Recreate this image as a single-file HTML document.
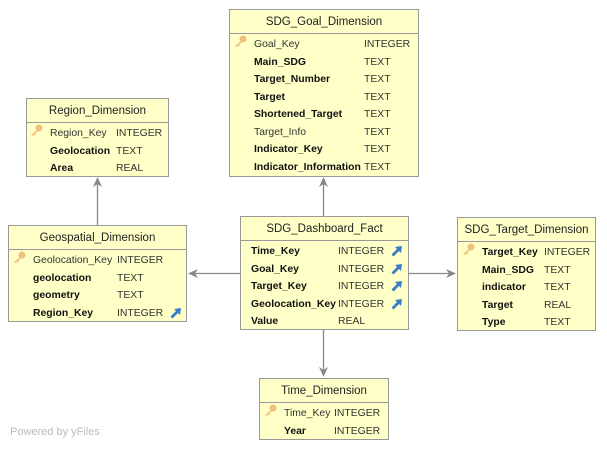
<!DOCTYPE html>
<html><head><meta charset="utf-8"><style>
body{margin:0;width:607px;height:449px;background:#fff;position:relative;overflow:hidden;font-family:"Liberation Sans",sans-serif;font-size:10.4px;color:#111}
.b{position:absolute;background:#ffffc8;border:1px solid #999;box-sizing:border-box}
.h{position:absolute;left:0;right:0;top:1px;height:23px;text-align:center;line-height:23px;font-size:11.5px;color:#222}
.hl{position:absolute;left:0;right:0;top:23px;border-top:1px solid #999}
.t{position:absolute;white-space:nowrap;line-height:12px}
.bd{font-weight:bold;color:#111}
.g{color:#333}
.k{position:absolute;width:13px;height:12px}
.i{position:absolute;width:12px;height:12px}
.pw{position:absolute;left:10px;top:426px;color:#bbb;font-size:11px;font-family:"Liberation Sans",sans-serif}
</style></head><body>
<svg width="607" height="449" style="position:absolute;left:0;top:0">
<g stroke="#888" stroke-width="1.3" fill="none">
<line x1="323.5" y1="216" x2="323.5" y2="180"/>
<line x1="240" y1="273.5" x2="191" y2="273.5"/>
<line x1="409" y1="273.5" x2="453" y2="273.5"/>
<line x1="323.5" y1="330" x2="323.5" y2="374"/>
<line x1="97.5" y1="225" x2="97.5" y2="180"/>
</g>
<g fill="#888">
<path d="M323.5 177 L319 187 L323.5 184 L328 187Z"/>
<path d="M188 273.5 L198 269 L195 273.5 L198 278Z"/>
<path d="M456 273.5 L446 269 L449 273.5 L446 278Z"/>
<path d="M323.5 377 L319 367 L323.5 370 L328 367Z"/>
<path d="M97.5 177 L93 187 L97.5 184 L102 187Z"/>
</g>
</svg>
<div id="root"></div>
<script>
function key(x,y){return '<svg class="k" style="left:'+x+'px;top:'+y+'px" viewBox="0 0 13 12"><circle cx="9" cy="4" r="3.5" fill="#f0c080"/><path d="M7 6 L1 11 L2.5 12 L4 10.5 L5 11.5 L6 10.5 L5 9.5 L8.5 7Z" fill="#f0c080"/></svg>';}
function ic(x,y){return '<svg class="i" style="left:'+x+'px;top:'+y+'px" viewBox="0 0 12 12"><path d="M0.5 9.5 L6 4 L4 2 L11 1 L10 8 L8 6 L2.5 11.5Z" fill="#3a7cc8"/></svg>';}
function box(x,y,w,hgt,title,nx,tx,rows,ix){
 var s='<div class="b" style="left:'+x+'px;top:'+y+'px;width:'+w+'px;height:'+hgt+'px"><div class="h">'+title+'</div><div class="hl"></div>';
 rows.forEach(function(r,i){
  var top=26+i*17.5+3;
  if(r[2]=='k'||r[2]=='kb') s+=key(nx-x-20,top-4);
  s+='<div class="t '+(r[2]=='b'||r[2]=='bi'||r[2]=='kb'?'bd':'g')+'" style="left:'+(nx-x)+'px;top:'+top+'px">'+r[0]+'</div>';
  s+='<div class="t g" style="left:'+(tx-x)+'px;top:'+top+'px">'+r[1]+'</div>';
  if(r[2]=='bi') s+=ic(ix-x,top-1);
 });
 return s+'</div>';
}
var h='';
h+=box(229,9,190,168,'SDG_Goal_Dimension',253,363,[['Goal_Key','INTEGER','k'],['Main_SDG','TEXT','b'],['Target_Number','TEXT','b'],['Target','TEXT','b'],['Shortened_Target','TEXT','b'],['Target_Info','TEXT','n'],['Indicator_Key','TEXT','b'],['Indicator_Information','TEXT','b']]);
h+=box(26,98,143,79,'Region_Dimension',49,115,[['Region_Key','INTEGER','k'],['Geolocation','TEXT','b'],['Area','REAL','b']]);
h+=box(8,225,179,97,'Geospatial_Dimension',32,116,[['Geolocation_Key','INTEGER','k'],['geolocation','TEXT','b'],['geometry','TEXT','b'],['Region_Key','INTEGER','bi']],169);
h+=box(240,216,169,114,'SDG_Dashboard_Fact',250,337,[['Time_Key','INTEGER','bi'],['Goal_Key','INTEGER','bi'],['Target_Key','INTEGER','bi'],['Geolocation_Key','INTEGER','bi'],['Value','REAL','b']],390);
h+=box(457,217,139,114,'SDG_Target_Dimension',481,543,[['Target_Key','INTEGER','kb'],['Main_SDG','TEXT','b'],['indicator','TEXT','b'],['Target','REAL','b'],['Type','TEXT','b']]);
h+=box(259,378,130,62,'Time_Dimension',283,333,[['Time_Key','INTEGER','k'],['Year','INTEGER','b']]);
document.getElementById('root').innerHTML=h;
</script>
<div class="pw">Powered by yFiles</div>
</body></html>
